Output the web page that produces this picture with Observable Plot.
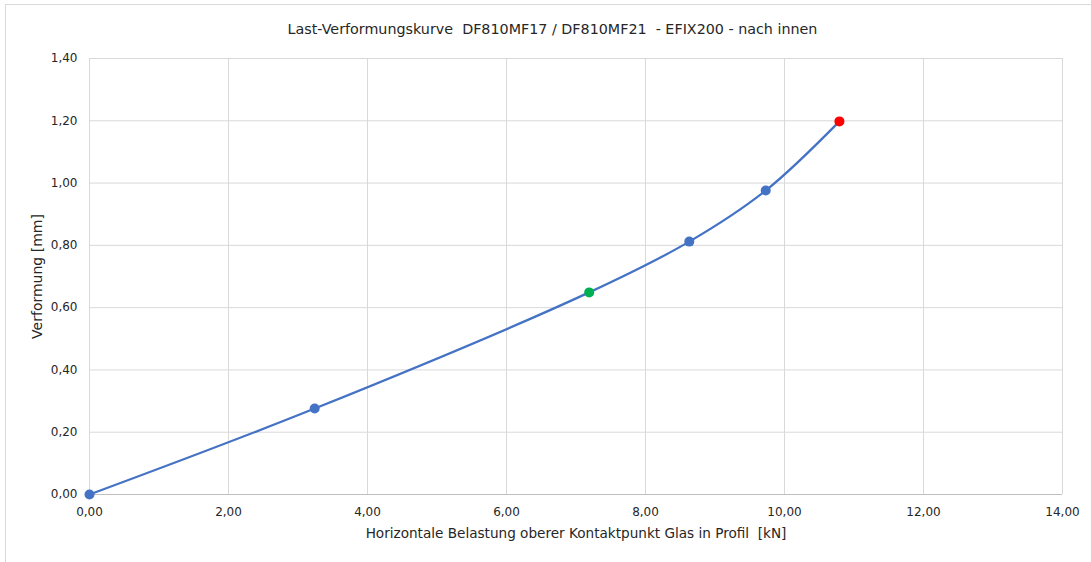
<!DOCTYPE html>
<html>
<head>
<meta charset="utf-8">
<script src="https://cdn.jsdelivr.net/npm/d3@7"></script>
<script src="https://cdn.jsdelivr.net/npm/@observablehq/plot@0.6"></script>
<style>
  body { margin: 0; background: #fff; }
  #wrap { position: relative; width: 1091px; height: 562px; overflow: hidden; font-family: "DejaVu Sans", sans-serif; }
  #frame { position: absolute; left: 5px; top: 4px; width: 1200px; height: 700px; border-left: 1px solid #d9d9d9; border-top: 1px solid #d9d9d9; }
  #title { position: absolute; top: 0; left: 7px; width: 1091px; height: 40px; line-height: 58px; text-align: center; font-size: 14.3px; color: #262626; white-space: pre; }
  #chart { position: absolute; top: 40px; left: 0; }
</style>
</head>
<body>
<div id="wrap">
  <div id="frame"></div>
  <div id="title">Last-Verformungskurve  DF810MF17 / DF810MF21  - EFIX200 - nach innen</div>
  <div id="chart"></div>
</div>
<script>
const load = [0, 3.24, 7.19, 8.63, 9.73, 10.79];
const deformation = [0, 0.276, 0.649, 0.812, 0.976, 1.198];
const pointColors = ["#4472C4", "#4472C4", "#00B050", "#4472C4", "#4472C4", "#FF0000"];
const xTicks = [0, 2, 4, 6, 8, 10, 12, 14];
const yTicks = [0, 0.2, 0.4, 0.6, 0.8, 1.0, 1.2, 1.4];
const xLabel = "Horizontale Belastung oberer Kontaktpunkt Glas in Profil  [kN]";
const yLabel = "Verformung [mm]";

const data = load.map((x, i) => ({x, y: deformation[i], c: pointColors[i]}));
const fmt = d => d.toFixed(2).replace(".", ",");

const chart = Plot.plot({
  width: 1091,
  height: 522,
  marginLeft: 89,
  marginRight: 29,
  marginTop: 18,
  marginBottom: 68,
  style: {fontFamily: "DejaVu Sans, sans-serif", fontSize: "12px", color: "#262626", background: "transparent"},
  x: {domain: [0, 14], ticks: xTicks, tickFormat: fmt, tickSize: 0, tickPadding: 13, label: null},
  y: {domain: [0, 1.4], ticks: yTicks, tickFormat: fmt, tickSize: 0, tickPadding: 12, label: null},
  marks: [
    Plot.gridX(xTicks, {stroke: "#d9d9d9", strokeOpacity: 1}),
    Plot.gridY(yTicks, {stroke: "#d9d9d9", strokeOpacity: 1}),
    Plot.ruleY([0], {stroke: "#bfbfbf"}),
    Plot.axisX({ticks: xTicks, tickFormat: fmt, tickSize: 0, tickPadding: 13, fontSize: 12}),
    Plot.axisY({ticks: yTicks, tickFormat: fmt, tickSize: 0, tickPadding: 12, fontSize: 12}),
    Plot.line(data, {x: "x", y: "y", stroke: "#4472C4", strokeWidth: 2.25, curve: "catmull-rom"}),
    Plot.dot(data, {x: "x", y: "y", fill: "c", r: 5, stroke: "none"}),
    Plot.text([xLabel], {frameAnchor: "bottom", dy: 43, fontSize: 13.6, fill: "#262626"}),
    Plot.text([yLabel], {frameAnchor: "left", textAnchor: "middle", dx: -52, rotate: -90, fontSize: 14, fill: "#262626"})
  ]
});
document.getElementById("chart").appendChild(chart);
</script>
</body>
</html>
